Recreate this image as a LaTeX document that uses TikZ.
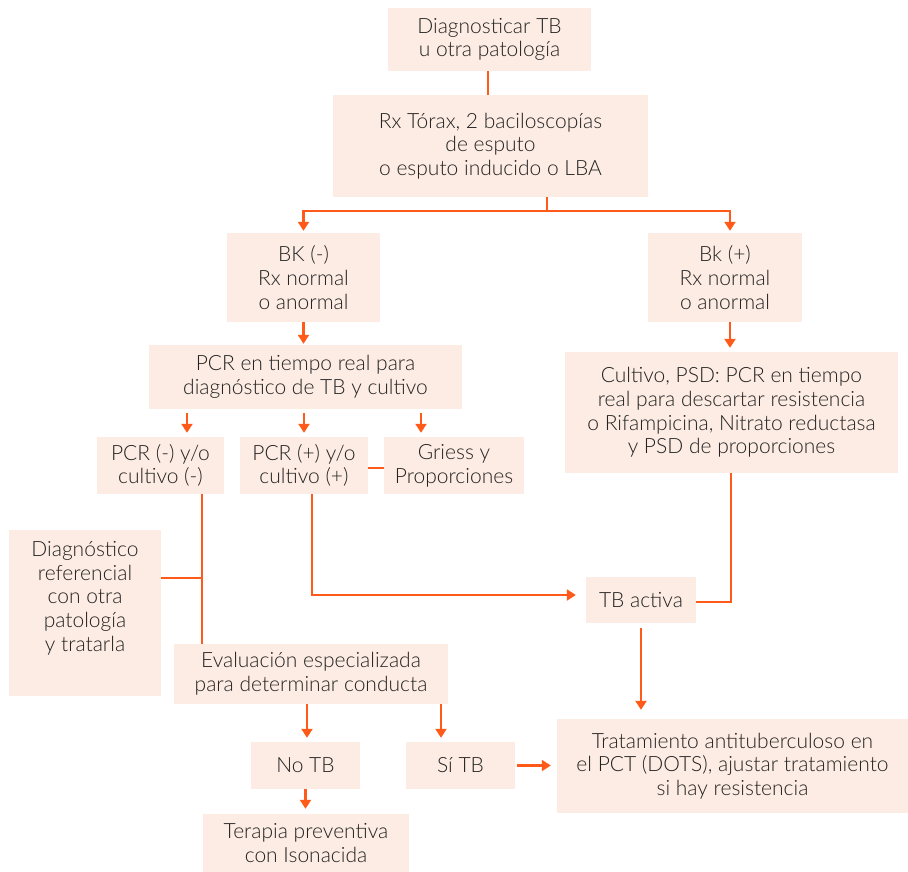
\documentclass[tikz,border=0pt]{standalone}
\usepackage{fontspec}
\setmainfont{Lato Light}
\usetikzlibrary{arrows.meta,calc}
\definecolor{boxfill}{HTML}{FDECE3}
\definecolor{lineor}{HTML}{FF5A1A}
\definecolor{txt}{HTML}{222222}
\tikzset{
  boxtext/.style={text=txt, inner sep=0pt, align=center, font=\fontsize{21}{23.7}\selectfont},
  box/.style={boxtext, fill=boxfill},
  conn/.style={draw=lineor, line width=2.3pt},
  arr/.style={conn, -{Triangle[length=9pt,width=11pt]}},
}
\newcommand\bx[6]{\node[box,minimum width={#4pt-#2pt},minimum height={#5pt-#3pt}] (#1) at ({(#2+#4)/2},{(#3+#5)/2}) {#6};}
\begin{document}
\begin{tikzpicture}[x=1pt,y=-1pt]
\useasboundingbox (0,0) rectangle (908,872);
\bx{diag}{388}{8}{591}{71}{Diagnosticar TB\\u otra patología}
\bx{rx}{333}{95}{648}{197}{Rx Tórax, 2 baciloscopías\\de esputo\\o esputo inducido o LBA}
\bx{bkn}{227}{233}{380}{322}{BK (-)\\Rx normal\\o anormal}
\bx{bkp}{648}{233}{802}{322}{Bk (+)\\Rx normal\\o anormal}
\bx{pcr}{149}{345}{462}{409}{PCR en tiempo real para\\diagnóstico de TB y cultivo}
\bx{cult}{565}{352}{898}{473}{Cultivo, PSD: PCR en tiempo\\real para descartar resistencia\\o Rifampicina, Nitrato reductasa\\y PSD de proporciones}
\bx{pcrn}{97}{437}{224}{494}{PCR (-) y/o\\cultivo (-)}
\bx{pcrp}{240}{437}{368}{494}{PCR (+) y/o\\cultivo (+)}
\bx{griess}{384}{437}{524}{494}{Griess y\\Proporciones}
\bx{dref}{9}{530}{161}{696}{}
\node[boxtext] (dreftxt) at (85,598) {Diagnóstico\\referencial\\con otra\\patología\\y tratarla};
\bx{tba}{586}{577}{696}{623}{TB activa}
\bx{eval}{174}{644}{448}{704}{Evaluación especializada\\para determinar conducta}
\bx{notb}{251}{742}{360}{789}{No TB}
\bx{sitb}{406}{742}{515}{789}{Sí TB}
\bx{trat}{557}{719}{908}{813}{Tratamiento antituberculoso en\\el PCT (DOTS), ajustar tratamiento\\si hay resistencia}
\bx{terap}{203}{814}{409}{872}{Terapia preventiva\\con Isonacida}
% coordinates
\coordinate (split) at (547,211);
\coordinate (a1) at (187,0);
\coordinate (a2) at (304,0);
\coordinate (a3) at (421,0);
\coordinate (vl) at (202,0);
\coordinate (pl) at (312,595);
\coordinate (cl) at (731,602);
\coordinate (e1) at (307,0);
\coordinate (e2) at (441,0);
\coordinate (dj) at (202,578);
% connectors
\draw[conn] (diag.south -| 488,0) -- (rx.north -| 488,0);
\draw[conn] (split |- rx.south) -- (split);
\draw[arr, shorten >=2pt] (split) -| (bkn.north);
\draw[arr, shorten >=2pt] (split) -| (bkp.north -| 730,0);
\draw[arr, shorten >=1pt] (bkn.south) -- (pcr.north -| bkn.south);
\draw[arr, shorten >=4pt] (bkp.south -| 730,0) -- (cult.north -| 730,0);
\draw[arr, shorten <=4pt, shorten >=4pt] (pcr.south -| a1) -- (pcrn.north -| a1);
\draw[arr, shorten <=4pt, shorten >=4pt] (pcr.south -| a2) -- (pcrp.north -| a2);
\draw[arr, shorten <=4pt, shorten >=4pt] (pcr.south -| a3) -- (griess.north -| a3);
\draw[conn] (pcrp.east |- 0,468) -- (griess.west |- 0,468);
\draw[conn] (pcrn.south -| vl) -- (eval.north -| vl);
\draw[conn] (dref.east |- dj) -- (dj);
\draw[arr, shorten >=10pt] (pcrp.south -| pl) -- (pl) -- (tba.west |- pl);
\draw[conn] (cult.south -| cl) -- (cl) -- (tba.east |- cl);
\draw[arr, shorten <=5pt, shorten >=9pt] (tba.south) -- (trat.north -| tba.south);
\draw[arr, shorten >=4pt] (eval.south -| e1) -- (notb.north -| e1);
\draw[arr, shorten >=4pt] (eval.south -| e2) -- (sitb.north -| e2);
\draw[arr, shorten <=2pt, shorten >=6pt] (sitb.east) -- (trat.west |- sitb.east);
\draw[arr, shorten >=5pt] (notb.south) -- (terap.north -| notb.south);
\end{tikzpicture}
\end{document}
